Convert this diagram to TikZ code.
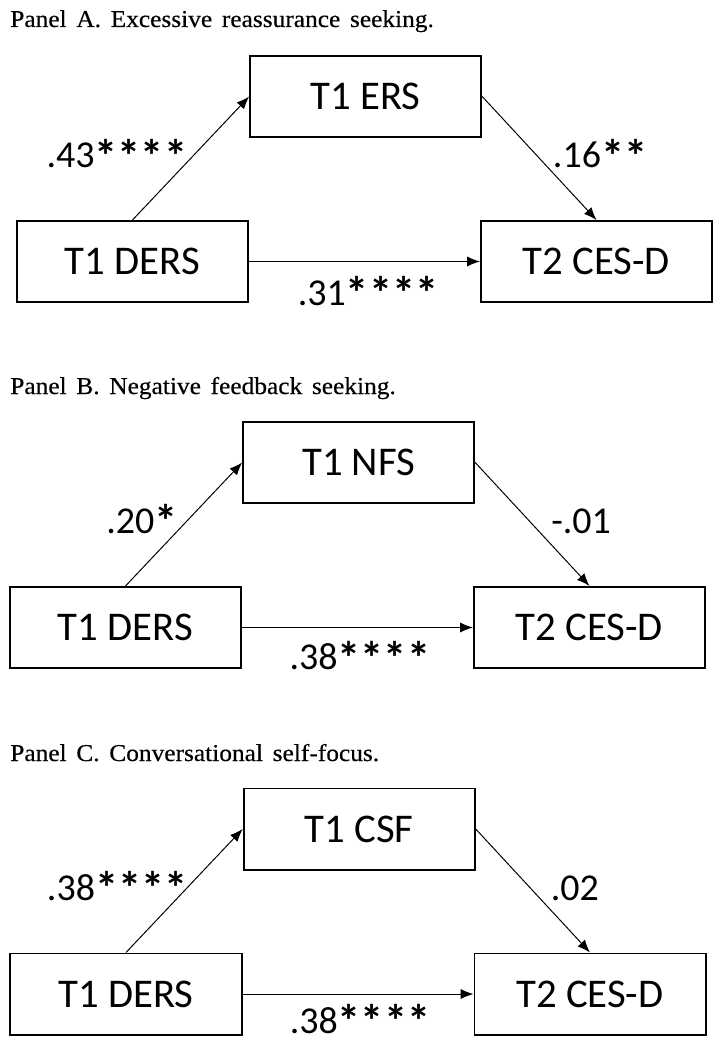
\documentclass[tikz,border=0pt]{standalone}
\usepackage{fontspec}
\setmainfont{Liberation Serif}[FakeStretch=1.05, FakeBold=0.4]
\newfontfamily\calibri{Carlito}
\usetikzlibrary{arrows.meta}

% heavier significance star
\newcommand{\sig}{\raisebox{-0.12em}[0.5em][0pt]{\bfseries\fontsize{33}{33}\selectfont *}}

\tikzset{var/.style={draw, line width=1.4pt, minimum width=5.776cm, minimum height=2.026cm, inner sep=0pt, font=\calibri\fontsize{29}{35}\selectfont},
    link/.style={-{Latex[length=0.32cm, width=0.25cm]}, line width=0.7pt},
    coef/.style={anchor=base, inner sep=0pt, font=\calibri\fontsize{27}{32}\selectfont},
    paneltitle/.style={anchor=base west, inner sep=0pt, font={\fontsize{17.2}{20}\selectfont\spaceskip=0.4em\relax}}}

\begin{document}
\begin{tikzpicture}[]
    \useasboundingbox (0,0) rectangle (18.05,-26.25);

    % Panel A
    \node[paneltitle] (titleA) at (0.25,-0.675) {Panel A. Excessive reassurance seeking.};
    \node[var] (dersA) at (3.3125,-6.5375) {T1 DERS};
    \node[var] (ersA) at ([xshift=5.83cm, yshift=4.125cm] dersA) {T1 ERS};
    \node[var] (cesdA) at ([xshift=11.6cm] dersA) {T2 CES-D};

    \node[coef] (aA) at ([xshift=-0.39cm, yshift=2.34cm] dersA) {.43\sig\sig\sig\sig};
    \node[coef] (bA) at ([xshift=11.69cm, yshift=2.34cm] dersA) {.16\sig\sig};
    \node[coef] (cA) at ([xshift=5.89cm, yshift=-1.09cm] dersA) {.31\sig\sig\sig\sig};

    \draw[link] (dersA.north) -- (ersA.west);
    \draw[link] (ersA.east) -- (cesdA.north);
    \draw[link] (dersA.east) -- (cesdA.west);

    % Panel B
    \node[paneltitle] (titleB) at (0.25,-9.85) {Panel B. Negative feedback seeking.};
    \node[var] (dersB) at (3.1375,-15.6875) {T1 DERS};
    \node[var] (nfsB) at ([xshift=5.83cm, yshift=4.125cm] dersB) {T1 NFS};
    \node[var] (cesdB) at ([xshift=11.6cm] dersB) {T2 CES-D};

    \node[coef] (aB) at ([xshift=0.41cm, yshift=2.36cm] dersB) {.20\sig};
    \node[coef] (bB) at ([xshift=11.39cm, yshift=2.36cm] dersB) {-.01};
    \node[coef] (cB) at ([xshift=5.86cm, yshift=-1.06cm] dersB) {.38\sig\sig\sig\sig};

    \draw[link] (dersB.north) -- (nfsB.west);
    \draw[link] (nfsB.east) -- (cesdB.north);
    \draw[link] (dersB.east) -- (cesdB.west);

    % Panel C
    \node[paneltitle] (titleC) at (0.25,-19.025) {Panel C. Conversational self-focus.};
    \node[var] (dersC) at (3.15,-24.85) {T1 DERS};
    \node[var] (csfC) at ([xshift=5.83cm, yshift=4.125cm] dersC) {T1 CSF};
    \node[var] (cesdC) at ([xshift=11.6cm] dersC) {T2 CES-D};

    \node[coef] (aC) at ([xshift=-0.22cm, yshift=2.35cm] dersC) {.38\sig\sig\sig\sig};
    \node[coef] (bC) at ([xshift=11.22cm, yshift=2.35cm] dersC) {.02};
    \node[coef] (cC) at ([xshift=5.85cm, yshift=-0.98cm] dersC) {.38\sig\sig\sig\sig};

    \draw[link] (dersC.north) -- (csfC.west);
    \draw[link] (csfC.east) -- (cesdC.north);
    \draw[link] (dersC.east) -- (cesdC.west);

\end{tikzpicture}
\end{document}
